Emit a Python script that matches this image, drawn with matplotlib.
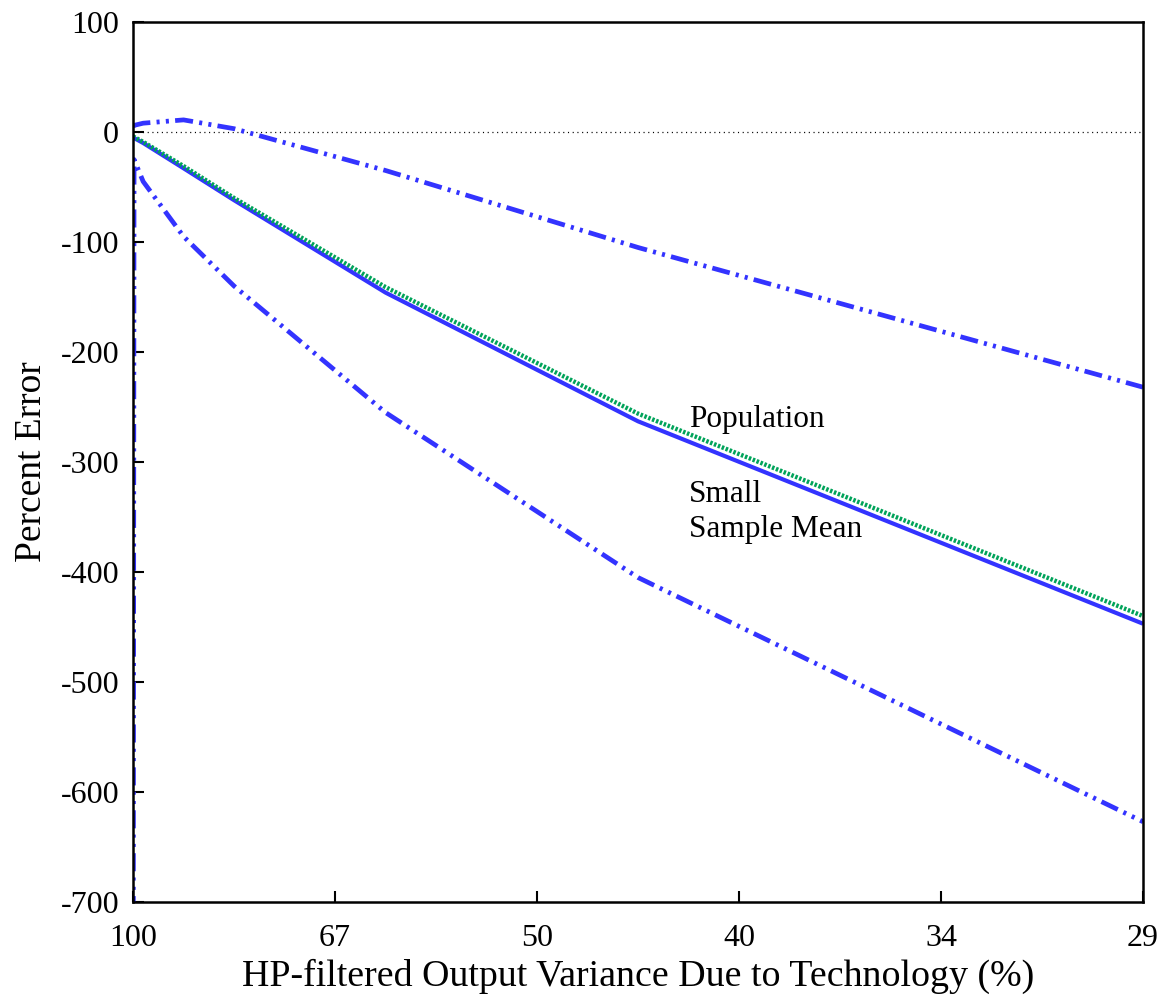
import matplotlib
matplotlib.use("Agg")
import matplotlib.pyplot as plt

plt.rcParams['font.family'] = ['Liberation Serif', 'DejaVu Serif']
plt.rcParams['lines.scale_dashes'] = False
plt.rcParams['axes.unicode_minus'] = False

# Evenly spaced positions along the horizontal axis with their labels
tick_pos = [0, 1, 2, 3, 4, 5]
tick_labels = ["100", "67", "50", "40", "34", "29"]

# Sample grid (in axis-position units)
x = [0, 0.005, 0.05, 0.25, 0.5, 1.25, 2.5, 5]

# Percent error of the estimate
population = [-4, -4.5, -9, -31, -60, -141, -256, -440]
small_sample_mean = [-5, -5.5, -10, -33, -62, -146, -263, -447]
upper_band = [5, 6, 8, 11, 3, -35, -105, -232]
lower_band = [-1000, -25, -45, -95, -140, -255, -405, -627]

fig = plt.figure(figsize=(11.61, 9.99), dpi=100)
ax = fig.add_axes([0.1146, 0.097, 0.870, 0.881])

blue = "#3333ff"
green = "#00a35a"
dashdotdot = (0, (13, 4.5, 2.2, 4.5, 2.2, 4.5))

ax.axhline(0, color="black", lw=0.9, ls=(0, (0.8, 2.6)), zorder=1)
ax.plot(x, upper_band, color=blue, lw=3.4, ls=dashdotdot, dash_capstyle="butt")
ax.plot(x, lower_band, color=blue, lw=3.4, ls=dashdotdot, dash_capstyle="butt")
ax.plot(x, small_sample_mean, color=blue, lw=3.0, solid_capstyle="butt")
ax.plot(x, population, color=green, lw=3.2, ls=(0, (1.8, 1.2)),
        dash_capstyle="butt")

ax.text(2.75, -268, "Population", fontsize=22.5)
ax.text(2.75, -336, "Small", fontsize=22.5)
ax.text(2.75, -368, "Sample Mean", fontsize=22.5)

ax.set_xlim(0, 5)
ax.set_ylim(-700, 100)
ax.set_xticks(tick_pos)
ax.set_xticklabels(tick_labels)
ax.set_yticks(range(-700, 101, 100))

ax.tick_params(direction="in", length=8, width=1.5, labelsize=23,
               top=False, right=False)
ax.tick_params(axis="y", pad=10)
ax.tick_params(axis="x", pad=16)
for s in ax.spines.values():
    s.set_linewidth(1.8)

ax.set_xlabel("HP-filtered Output Variance Due to Technology (%)", fontsize=27.3,
              labelpad=4)
ax.set_ylabel("Percent Error", fontsize=27, labelpad=8)

fig.savefig("out.png", dpi=100)
